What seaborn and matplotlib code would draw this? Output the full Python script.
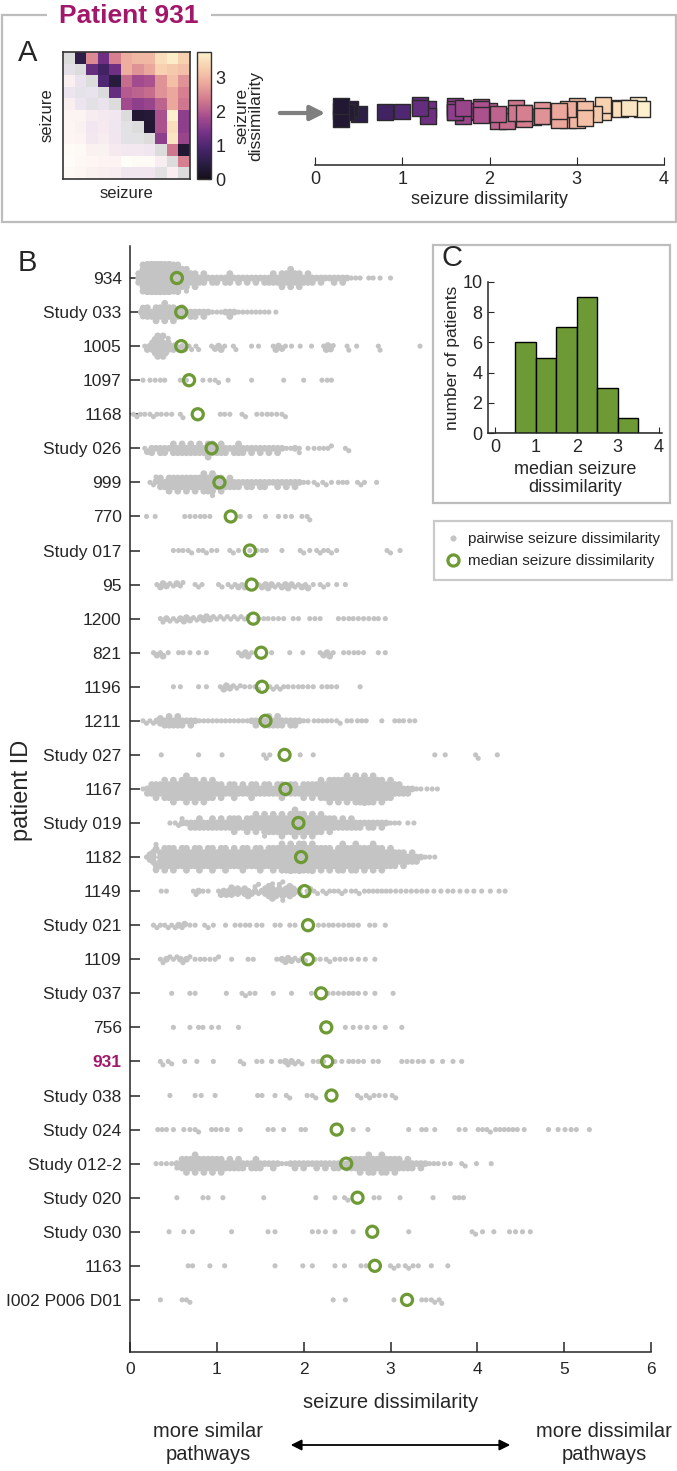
import warnings
import numpy as np
import pandas as pd
import matplotlib
matplotlib.use('Agg')
import matplotlib.pyplot as plt
import seaborn as sns
from matplotlib.lines import Line2D
from matplotlib.patches import Rectangle, FancyArrowPatch
from matplotlib.colors import ListedColormap

warnings.filterwarnings('ignore')

# ---------------- data ----------------
patients = ['934', 'Study 033', '1005', '1097', '1168', 'Study 026', '999', '770',
            'Study 017', '95', '1200', '821', '1196', '1211', 'Study 027', '1167',
            'Study 019', '1182', '1149', 'Study 021', '1109', 'Study 037', '756',
            '931', 'Study 038', 'Study 024', 'Study 012-2', 'Study 020', 'Study 030',
            '1163', 'I002 P006 D01']

medians = [0.54, 0.59, 0.59, 0.68, 0.78, 0.94, 1.03, 1.16, 1.38, 1.40, 1.42, 1.51,
           1.52, 1.56, 1.78, 1.79, 1.94, 1.97, 2.01, 2.05, 2.05, 2.20, 2.26, 2.27,
           2.32, 2.38, 2.49, 2.62, 2.79, 2.82, 3.19]

# pairwise seizure dissimilarities per patient, "value" or "value*count"
p934 = ("0.10*3 0.15*7 0.20*10 0.25*13 0.30*11 0.35*13 0.40*10 0.45*11 0.50*7 0.55*8 0.60*5 "
        "0.65*6 0.70*3 0.75*4 0.80*2 0.85*3 0.90 0.95*2 1.00*2 1.05 1.10*2 1.15*3 1.20 "
        "1.25*2 1.30 1.35*2 1.40 1.45*2 1.50 1.55*2 1.60*2 1.65*3 1.70*2 1.75*4 1.80*3 "
        "1.85*5 1.90*3 1.95*4 2.00*2 2.05*3 2.10*2 2.15 2.20*2 2.25 2.30 2.35*2 2.40 "
        "2.45*2 2.50 2.55 2.60 2.65 2.75 2.80 2.88 3.00")
p_s033 = ("0.13 0.15*2 0.20*3 0.25*2 0.30*4 0.35*3 0.40*5 0.45*3 0.50*4 0.55*2 0.60*3 0.65 "
          "0.70*2 0.75*2 0.80 0.85*2 0.90 0.95 1.00 1.05 1.10 1.15*2 1.20 1.25 1.30 1.35 1.40 "
          "1.45 1.50 1.55 1.60 1.68")
p1005 = ("0.17 0.20 0.23 0.26*2 0.29*3 0.32*4 0.35*3 0.38*4 0.41*2 0.44*3 0.47 0.50 0.52 "
         "0.56 0.60 0.63 0.68 0.71 0.76 0.79 0.94 0.98 1.02 1.05 1.09 1.19 1.22 1.40 1.48 "
         "1.65 1.68 1.71 1.75 1.79 1.86 1.96 2.09 2.23 2.26 2.28 2.31 2.34 2.50 2.52 2.61 "
         "2.86 2.88 3.34")
p1097 = "0.15 0.23 0.29 0.35 0.40 0.58 0.65 0.84 0.92 0.98 1.02 1.13 1.40 1.77 2.00 2.21 2.27 2.32"
p1168 = ("0.04 0.08 0.12 0.17 0.23 0.27 0.31 0.36 0.42 0.48 0.58 0.61 1.04 1.09 1.15 1.29 "
         "1.33 1.46 1.52 1.58 1.63 1.69 1.75 1.79")
p_s026 = ("0.17 0.20 0.25*2 0.30 0.35*2 0.40*2 0.45 0.50*3 0.55*2 0.60*3 0.65*2 0.70*3 0.75*2 "
          "0.80*3 0.85*2 0.90*4 0.95*3 1.00*2 1.05*3 1.10*2 1.15 1.20*2 1.25*3 1.30*2 1.35 "
          "1.40*2 1.45 1.50*2 1.55 1.60*2 1.65 1.70*2 1.75 1.80 1.85 1.90 1.95*2 2.05 2.12 "
          "2.18 2.23 2.28 2.32 2.48 2.52")
p999 = ("0.23 0.27 0.30*2 0.35*3 0.40*2 0.45*4 0.50*3 0.55*4 0.60*3 0.65*4 0.70*3 0.75*4 "
        "0.80*3 0.85*5 0.90*4 0.95*6 1.00*3 1.05*4 1.10*2 1.15*3 1.20*2 1.25*2 1.30 1.35*2 "
        "1.40*2 1.45 1.50*2 1.55*2 1.60 1.65 1.70*2 1.75 1.80*2 1.85 1.90*2 1.95 2.00 "
        "2.05 2.12 2.16 2.22 2.26 2.32 2.40 2.45 2.50 2.62 2.66 2.70 2.84")
p770 = "0.19 0.29 0.63 0.69 0.75 0.81 0.86 0.92 1.27 1.38 1.56 1.71 1.79 1.86 1.98 2.04 2.07"
p_s017 = ("0.50 0.56 0.61 0.67 0.71 0.79 0.84 0.88 0.94 1.00 1.15 1.19 1.25 1.38 1.46 1.52 "
          "1.57 1.75 1.96 2.00 2.07 2.15 2.19 2.23 2.28 2.32 2.38 2.96 3.00 3.11")
p95 = ("0.31 0.35 0.38 0.42 0.46 0.50 0.54 0.58 0.61 0.75 0.79 0.83 1.02 1.06 1.13 1.17 "
       "1.21 1.25 1.29 1.32 1.48 1.52 1.56 1.59 1.63 1.67 1.71 1.75 1.79 1.82 1.86 1.90 "
       "1.94 1.98 2.02 2.05 2.11 2.19 2.23 2.28 2.38 2.48")
p1200 = ("0.35 0.38 0.42 0.46 0.50 0.54 0.58 0.62 0.65 0.69 0.73 0.77 0.81 0.85 0.88 0.92 "
         "0.96 1.00 1.04 1.08 1.12 1.16 1.20 1.24 1.28 1.32 1.36 1.48 1.54 1.59 1.65 1.71 "
         "1.77 1.88 1.94 2.07 2.13 2.19 2.40 2.46 2.52 2.57 2.63 2.69 2.75 2.81 2.86 2.94")
p821 = ("0.27 0.31 0.35 0.38 0.44 0.56 0.61 0.69 0.79 0.88 1.25 1.29 1.33 1.36 1.40 1.63 "
        "1.84 1.99 2.19 2.23 2.27 2.30 2.34 2.46 2.52 2.58 2.63 2.69 2.86 2.94")
p1196 = ("0.50 0.58 0.79 0.88 1.04 1.08 1.11 1.15 1.19 1.23 1.27 1.32 1.38 1.44 1.48 1.61 "
         "1.65 1.69 1.73 1.77 1.82 1.88 1.94 1.99 2.05 2.11 2.21 2.27 2.32 2.38 2.65")
p1211 = ("0.15 0.19 0.23 0.27 0.31 0.35*2 0.40*2 0.45*3 0.50*2 0.55*3 0.60*2 0.65 0.70*2 "
         "0.75 0.80 0.85 0.90 0.95 1.00 1.05 1.10 1.15 1.20 1.25 1.30 1.35 1.40 1.45*2 1.50 "
         "1.55*2 1.60*3 1.65*2 1.70*3 1.75*2 1.80 1.85*2 1.90*2 1.95 2.00 2.05 2.12 2.17 "
         "2.22 2.27 2.32 2.38 2.42 2.50 2.55 2.62 2.67 2.72 2.90 3.05 3.10 3.15 3.22 3.28")
p_s027 = "0.36 0.79 1.06 1.54 1.57 1.61 1.96 2.11 3.51 3.63 3.98 4.01 4.23"
p1167 = ("0.15 0.20*2 0.25*3 0.30*4 0.35*3 0.40*5 0.45*4 0.50*6 0.55*4 0.60*5 0.65*7 0.70*5 "
         "0.75*6 0.80*4 0.85*6 0.90*4 0.95*5 1.00*3 1.05*4 1.10*2 1.15*3 1.20*4 1.25*2 1.30*3 "
         "1.35*2 1.40*4 1.45*3 1.50*2 1.55*3 1.60*3 1.65*2 1.70*3 1.75*4 1.80*2 1.85*3 1.90*3 "
         "1.95*2 2.00*4 2.05*3 2.10*4 2.15*3 2.20*5 2.25*4 2.30*6 2.35*5 2.40*6 2.45*5 2.50*7 "
         "2.55*5 2.60*7 2.65*6 2.70*8 2.75*6 2.80*7 2.85*5 2.90*6 2.95*4 3.00*5 3.05*3 3.10*3 "
         "3.15*2 3.20*2 3.25 3.30 3.35 3.42 3.48 3.54")
p_s019 = ("0.46 0.52 0.56 0.60*2 0.65 0.70*2 0.75*2 0.80*3 0.85*2 0.90*2 0.95*3 1.00*2 "
          "1.05*3 1.10*2 1.15*3 1.20*4 1.25*3 1.30*2 1.35*4 1.40*3 1.45*5 1.50*3 1.55*6 1.60*4 "
          "1.65*5 1.70*4 1.75*6 1.80*4 1.85*5 1.90*7 1.95*5 2.00*6 2.05*4 2.10*6 2.15*4 2.20*5 "
          "2.25*3 2.30*4 2.35*3 2.40*2 2.45*3 2.50*2 2.55*3 2.60*2 2.65*2 2.70 2.75*2 2.80*2 "
          "2.85 2.90*2 2.95 3.00 3.05 3.10 3.20 3.27")
p1182 = ("0.19 0.23*2 0.27*3 0.30*5 0.35*4 0.40*6 0.45*5 0.50*6 0.55*4 0.60*5 0.65*6 0.70*4 "
         "0.75*5 0.80*6 0.85*4 0.90*5 0.95*6 1.00*4 1.05*5 1.10*6 1.15*4 1.20*5 1.25*4 1.30*6 "
         "1.35*5 1.40*4 1.45*5 1.50*6 1.55*4 1.60*5 1.65*6 1.70*5 1.75*7 1.80*6 1.85*8 1.90*6 "
         "1.95*8 2.00*7 2.05*6 2.10*8 2.15*5 2.20*6 2.25*5 2.30*6 2.35*4 2.40*6 2.45*7 2.50*5 "
         "2.55*6 2.60*7 2.65*5 2.70*6 2.75*5 2.80*7 2.85*5 2.90*6 2.95*4 3.00*5 3.05*4 3.10*3 "
         "3.15*4 3.20*2 3.25*3 3.30*2 3.35 3.40 3.45 3.51")
p1149 = ("0.36 0.42 0.73 0.76 0.79 0.84 0.90 1.02 1.05 1.08 1.11 1.14 1.17*2 1.20 1.24*2 "
         "1.28 1.32*2 1.36*2 1.40 1.44*2 1.48*2 1.52 1.56*2 1.60*3 1.64*4 1.68*2 1.72*3 "
         "1.76*4 1.80*2 1.84*3 1.88*2 1.92 1.96*2 2.04*2 2.08 2.12 2.16 2.22 2.26 2.30 2.35 "
         "2.40 2.44 2.48 2.55 2.60 2.64 2.70 2.75 2.80 2.85 2.90 2.95 3.00 3.06 3.12 3.18 3.24 "
         "3.30 3.36 3.42 3.50 3.58 3.66 3.72 3.80 3.88 3.96 4.05 4.15 4.25 4.32")
p_s021 = ("0.27 0.31 0.35 0.40 0.44 0.48 0.52 0.56 0.60 0.63 0.69 0.75 0.86 0.90 0.96 1.10 "
          "1.21 1.27 1.33 1.38 1.46 1.52 1.67 1.73 1.84 1.90 2.17 2.23 2.29 2.34 2.40 2.46 "
          "2.52 2.57 2.63 2.76 2.82 2.94")
p1109 = ("0.35 0.38 0.42 0.46 0.50 0.54 0.58 0.61 0.65 0.69 0.75 0.81 0.86 0.92 0.98 1.02 "
         "1.17 1.36 1.42 1.69 1.75 1.79 1.82 1.86 1.90 1.94 1.98 2.02 2.13 2.19 2.26 2.30 "
         "2.36 2.42 2.48 2.55 2.63 2.71 2.82")
p_s037 = ("0.48 0.69 0.75 1.11 1.29 1.33 1.38 1.44 1.65 1.86 2.09 2.28 2.34 2.40 2.46 2.52 "
          "2.57 2.63 2.71 2.82 3.03")
p756 = "0.50 0.69 0.79 0.84 0.94 1.02 1.25 2.48 2.57 2.65 2.73 2.82 2.94 3.13"
p931 = ("0.35 0.38 0.44 0.48 0.63 0.77 0.96 1.27 1.31 1.46 1.52 1.63 1.73 1.79 1.82 1.86 "
        "1.90 1.94 1.98 2.11 2.17 2.23 2.36 2.44 2.52 2.57 2.63 2.69 2.80 2.86 3.13 3.19 "
        "3.25 3.32 3.38 3.48 3.60 3.72 3.82")
p_s038 = ("0.46 0.75 0.82 0.98 1.47 1.52 1.67 1.80 1.84 2.04 2.10 2.14 2.62 2.66 2.72 2.76 "
          "2.81 2.87 2.94 3.02 3.06")
p_s024 = ("0.32 0.37 0.42 0.50 0.62 0.69 0.75 0.79 0.94 0.99 1.05 1.12 1.27 1.59 1.65 1.77 "
          "1.97 2.02 2.57 2.74 3.21 3.36 3.41 3.51 3.79 3.86 4.01 4.06 4.11 4.15 4.21 4.26 "
          "4.31 4.36 4.41 4.46 4.54 4.82 4.93 5.01 5.08 5.14 5.29")
p_s012 = ("0.30 0.36 0.42 0.48 0.54*2 0.60*3 0.65*4 0.70*3 0.75*5 0.80*3 0.85*4 0.90*3 0.95*4 "
          "1.00*3 1.05*4 1.10*2 1.15*3 1.20*2 1.25*3 1.30*2 1.35 1.40*2 1.45*3 1.50*2 1.55 "
          "1.60 1.65*2 1.70 1.75 1.80 1.85 1.90*2 1.95 2.00*2 2.05 2.10 2.15*2 2.20 2.25*2 "
          "2.30 2.35*2 2.40*2 2.45 2.50*2 2.55*3 2.60*3 2.65*4 2.70*3 2.75*5 2.80*4 2.85*3 "
          "2.90*5 2.95*4 3.00*3 3.05*4 3.10*3 3.15*2 3.20*3 3.25*2 3.30 3.35*2 3.40 3.45 "
          "3.50 3.55 3.62 3.69 3.82 3.86 3.99 4.16")
p_s020 = "0.54 0.84 0.90 1.07 1.54 2.14 2.36 2.47 2.51 2.81 2.87 3.11 3.49 3.74 3.79 3.84"
p_s030 = ("0.45 0.62 0.72 1.17 1.59 1.67 2.10 2.17 2.25 2.36 2.57 3.21 3.94 3.98 4.06 4.19 "
          "4.37 4.44 4.52 4.61")
p1163 = ("0.67 0.72 0.92 1.09 1.67 1.99 2.10 2.36 2.47 2.66 2.72 3.00 3.04 3.09 3.17 3.21 "
         "3.26 3.32 3.47 3.66")
p_i002 = "0.35 0.60 0.65 0.69 2.34 2.48 3.04 3.36 3.41 3.47 3.51 3.56 3.59"

pairwise_specs = [p934, p_s033, p1005, p1097, p1168, p_s026, p999, p770, p_s017, p95,
                  p1200, p821, p1196, p1211, p_s027, p1167, p_s019, p1182, p1149, p_s021,
                  p1109, p_s037, p756, p931, p_s038, p_s024, p_s012, p_s020, p_s030,
                  p1163, p_i002]

# patient 931: upper triangle of the 11 x 11 seizure dissimilarity matrix
upper_931 = [
    [0.50, 2.50, 1.30, 2.40, 2.90, 3.00, 3.00, 3.50, 3.70, 3.30],
    [1.20, 0.80, 1.30, 2.90, 2.60, 2.80, 3.30, 3.20, 3.10],
    [1.00, 0.40, 2.20, 1.80, 1.90, 2.60, 3.10, 2.60],
    [1.20, 2.00, 2.10, 2.20, 2.60, 2.80, 2.40],
    [1.80, 1.60, 1.70, 2.10, 2.80, 2.30],
    [0.30, 0.35, 1.90, 3.75, 1.60],
    [0.30, 1.90, 3.50, 1.60],
    [1.60, 3.60, 1.70],
    [2.30, 0.30],
    [2.40],
]

hist_bins = [0, 0.5, 1, 1.5, 2, 2.5, 3, 3.5, 4]
cmap_colors = ['#141018', '#2b1d45', '#4a2570', '#7a3489', '#a94f8e', '#d27a8e',
               '#eca79c', '#f7cfae', '#fdf0cc']


def expand(spec):
    vals = []
    for tok in spec.split():
        v, _, n = tok.partition('*')
        vals += [float(v)] * int(n or 1)
    return vals


# ---------------- layout helpers (pixels) ----------------
W, H = 677, 1471


def box(l, t, r, b):
    return [l / W, 1 - b / H, (r - l) / W, (b - t) / H]


def fx(x):
    return x / W


def fy(y):
    return 1 - y / H


GREEN = '#6E9A36'
MAGENTA = '#A3176A'
DOT = '#C4C4C4'
FRAME = '#BDBDBD'

sns.set_style('ticks')
plt.rcParams['font.family'] = ['Liberation Sans', 'DejaVu Sans']
plt.rcParams['axes.linewidth'] = 1.1

cmap931 = sns.blend_palette(cmap_colors, as_cmap=True)

fig = plt.figure(figsize=(W / 100, H / 100), dpi=100)

# ---------------- panel A ----------------
n = len(upper_931) + 1
M = np.full((n, n), np.nan)
for i, row in enumerate(upper_931):
    M[i, i + 1:] = row
M = np.where(np.isnan(M), M.T, M)
iu = np.triu(np.ones((n, n), dtype=bool), k=1)
il = iu.T
diag = np.eye(n, dtype=bool)

axh = fig.add_axes(box(63, 52, 190, 179))
cax = fig.add_axes(box(197, 52, 211, 179))
sns.heatmap(M, mask=~iu, cmap=cmap931, vmin=0, vmax=3.75, ax=axh, cbar_ax=cax,
            xticklabels=False, yticklabels=False)
sns.heatmap(M, mask=~il, cmap=cmap931, vmin=0, vmax=3.75, alpha=0.13, cbar=False,
            ax=axh, xticklabels=False, yticklabels=False)
sns.heatmap(np.where(diag, 1.0, np.nan), mask=~diag, cmap=ListedColormap(['#DCDCDC']),
            cbar=False, ax=axh, xticklabels=False, yticklabels=False)
for s in axh.spines.values():
    s.set_visible(True)
    s.set_color('#333333')
    s.set_linewidth(1.2)
axh.set_xlabel('seizure', fontsize=12, labelpad=5)
axh.set_ylabel('seizure', fontsize=12, labelpad=6)
cb = axh.collections[0].colorbar
cb.outline.set_linewidth(1.0)
cb.outline.set_edgecolor('#333333')
cb.set_ticks([0, 1, 2, 3])
cb.ax.tick_params(labelsize=13, length=3, direction='in', pad=3)
fig.text(fx(249), fy(116), 'seizure\ndissimilarity', rotation=90, ha='center', va='center',
         fontsize=12.5, linespacing=0.95)

strip_vals = M[iu]
axs = fig.add_axes(box(315, 95, 664, 165))
np.random.seed(3)
sns.stripplot(x=strip_vals, hue=strip_vals, palette=cmap931, hue_norm=(0, 3.75), marker='s',
              size=11.5, jitter=0.22, linewidth=1, edgecolor='#2a2a2a', legend=False,
              orient='h', ax=axs)
axs.set_xlim(0, 4)
axs.set_ylim(1.3, -0.45)
axs.set_yticks([])
sns.despine(ax=axs, left=True)
axs.set_xticks([0, 1, 2, 3, 4])
axs.tick_params(axis='x', direction='in', length=6, labelsize=13, pad=4)
fig.text(fx(489), fy(200), 'seizure dissimilarity', ha='center', va='center', fontsize=13)

fig.add_artist(FancyArrowPatch((fx(277), fy(113)), (fx(328), fy(113)), transform=fig.transFigure,
                               arrowstyle='-|>', mutation_scale=22, lw=3, color='#7F7F7F'))

fig.add_artist(Rectangle((fx(2), fy(222)), fx(674), (222 - 15) / H, transform=fig.transFigure,
                         fill=False, ec=FRAME, lw=1.6, zorder=1))
fig.text(fx(129), fy(16), 'Patient 931', ha='center', va='center', fontsize=19,
         fontweight='bold', color=MAGENTA,
         family=['Liberation Sans Narrow', 'Liberation Sans', 'DejaVu Sans'],
         bbox=dict(fc='white', ec='none', pad=9), zorder=5)

# ---------------- panel B ----------------
df = pd.DataFrame({
    'patient': np.repeat(patients, [len(expand(s)) for s in pairwise_specs]),
    'dissimilarity': np.concatenate([expand(s) for s in pairwise_specs]),
})

ax = fig.add_axes(box(130, 246, 651, 1352))
n0 = len(ax.collections)
sns.swarmplot(data=df, x='dissimilarity', y='patient', order=patients, color=DOT,
              size=3.0, linewidth=0, warn_thresh=1, ax=ax)
swarm_colls = ax.collections[n0:]
n_before = len(ax.collections)
sns.stripplot(x=medians, y=patients, order=patients, jitter=False, size=8, color=GREEN,
              edgecolor=GREEN, linewidth=2.3, orient='h', ax=ax)
for coll in ax.collections[n_before:]:
    coll.set_facecolor('none')
    coll.set_edgecolor(GREEN)
    coll.set_zorder(5)
ax.set_xlim(0, 6)
ax.set_ylim(len(patients) - 1 + 1.53, -0.94)
ax.set_xticks([0, 1, 2, 3, 4, 5, 6])
ax.set_xlabel('')
ax.set_ylabel('')
sns.despine(ax=ax)
ax.tick_params(axis='x', direction='in', length=7, width=1.1, labelsize=12.5, pad=7)
ax.tick_params(axis='y', direction='in', length=7, width=1.1, labelsize=12.5, pad=6)
for lab in ax.get_yticklabels():
    if lab.get_text() == '931':
        lab.set_color(MAGENTA)
        lab.set_fontweight('bold')

fig.text(fx(22), fy(790), 'patient ID', rotation=90, ha='center', va='center', fontsize=17)
fig.text(fx(391), fy(1402), 'seizure dissimilarity', ha='center', va='center', fontsize=14.5)
fig.text(fx(208), fy(1443), 'more similar\npathways', ha='center', va='center', fontsize=14.5,
         linespacing=1.25)
fig.text(fx(604), fy(1443), 'more dissimilar\npathways', ha='center', va='center',
         fontsize=14.5, linespacing=1.25)
fig.add_artist(FancyArrowPatch((fx(288), fy(1445)), (fx(513), fy(1445)), transform=fig.transFigure,
                               arrowstyle='<|-|>', mutation_scale=16, lw=1.3, color='black'))

handles = [Line2D([], [], ls='', marker='o', color=DOT, markersize=3.4),
           Line2D([], [], ls='', marker='o', mfc='none', mec=GREEN, mew=2.3, markersize=8)]
leg = ax.legend(handles, ['pairwise seizure dissimilarity', 'median seizure dissimilarity'],
                loc='upper left', bbox_to_anchor=(fx(434), fy(521)),
                bbox_transform=fig.transFigure, fontsize=11, frameon=True, fancybox=False,
                edgecolor=FRAME, borderaxespad=0, handlelength=1.0, handletextpad=0.5,
                borderpad=0.75, labelspacing=0.5)
leg.get_frame().set_linewidth(1.6)

# ---------------- panel C ----------------
axc = fig.add_axes(box(488, 282, 662, 433))
sns.histplot(x=medians, bins=hist_bins, color=GREEN, edgecolor='black', linewidth=1,
             alpha=1, ax=axc)
axc.set_xlim(-0.17, 4.08)
axc.set_ylim(0, 10)
axc.set_xticks([0, 1, 2, 3, 4])
axc.set_yticks([0, 2, 4, 6, 8, 10])
sns.despine(ax=axc)
axc.tick_params(direction='in', length=4, labelsize=13, pad=4)
axc.set_ylabel('number of patients', fontsize=12.5, labelpad=2)
axc.set_xlabel('median seizure\ndissimilarity', fontsize=13, labelpad=4, linespacing=1.1)

fig.add_artist(Rectangle((fx(433), fy(503)), fx(670 - 433), (503 - 245) / H,
                         transform=fig.transFigure, fill=False, ec=FRAME, lw=1.6, zorder=1))

# panel letters
fig.text(fx(28), fy(53), 'A', ha='center', va='center', fontsize=21)
fig.text(fx(27), fy(263), 'B', ha='center', va='center', fontsize=21)
fig.text(fx(452), fy(258), 'C', ha='center', va='center', fontsize=21)

# lay out the swarm once with the packing size, then freeze it and draw the dots
# larger where they are crowded, so dense rows merge into solid bands
fig.canvas.draw()
for coll in swarm_colls:
    if 'draw' in coll.__dict__:
        del coll.draw
    pts = ax.transData.transform(coll.get_offsets())
    if len(pts) == 0:
        continue
    dist = np.hypot(pts[:, None, 0] - pts[None, :, 0], pts[:, None, 1] - pts[None, :, 1])
    crowd = (dist < 6.5).sum(axis=1) - 1
    coll.set_sizes(np.where(crowd >= 3, 4.9, 3.7) ** 2)

fig.savefig('out.png', dpi=100)
plt.close(fig)
